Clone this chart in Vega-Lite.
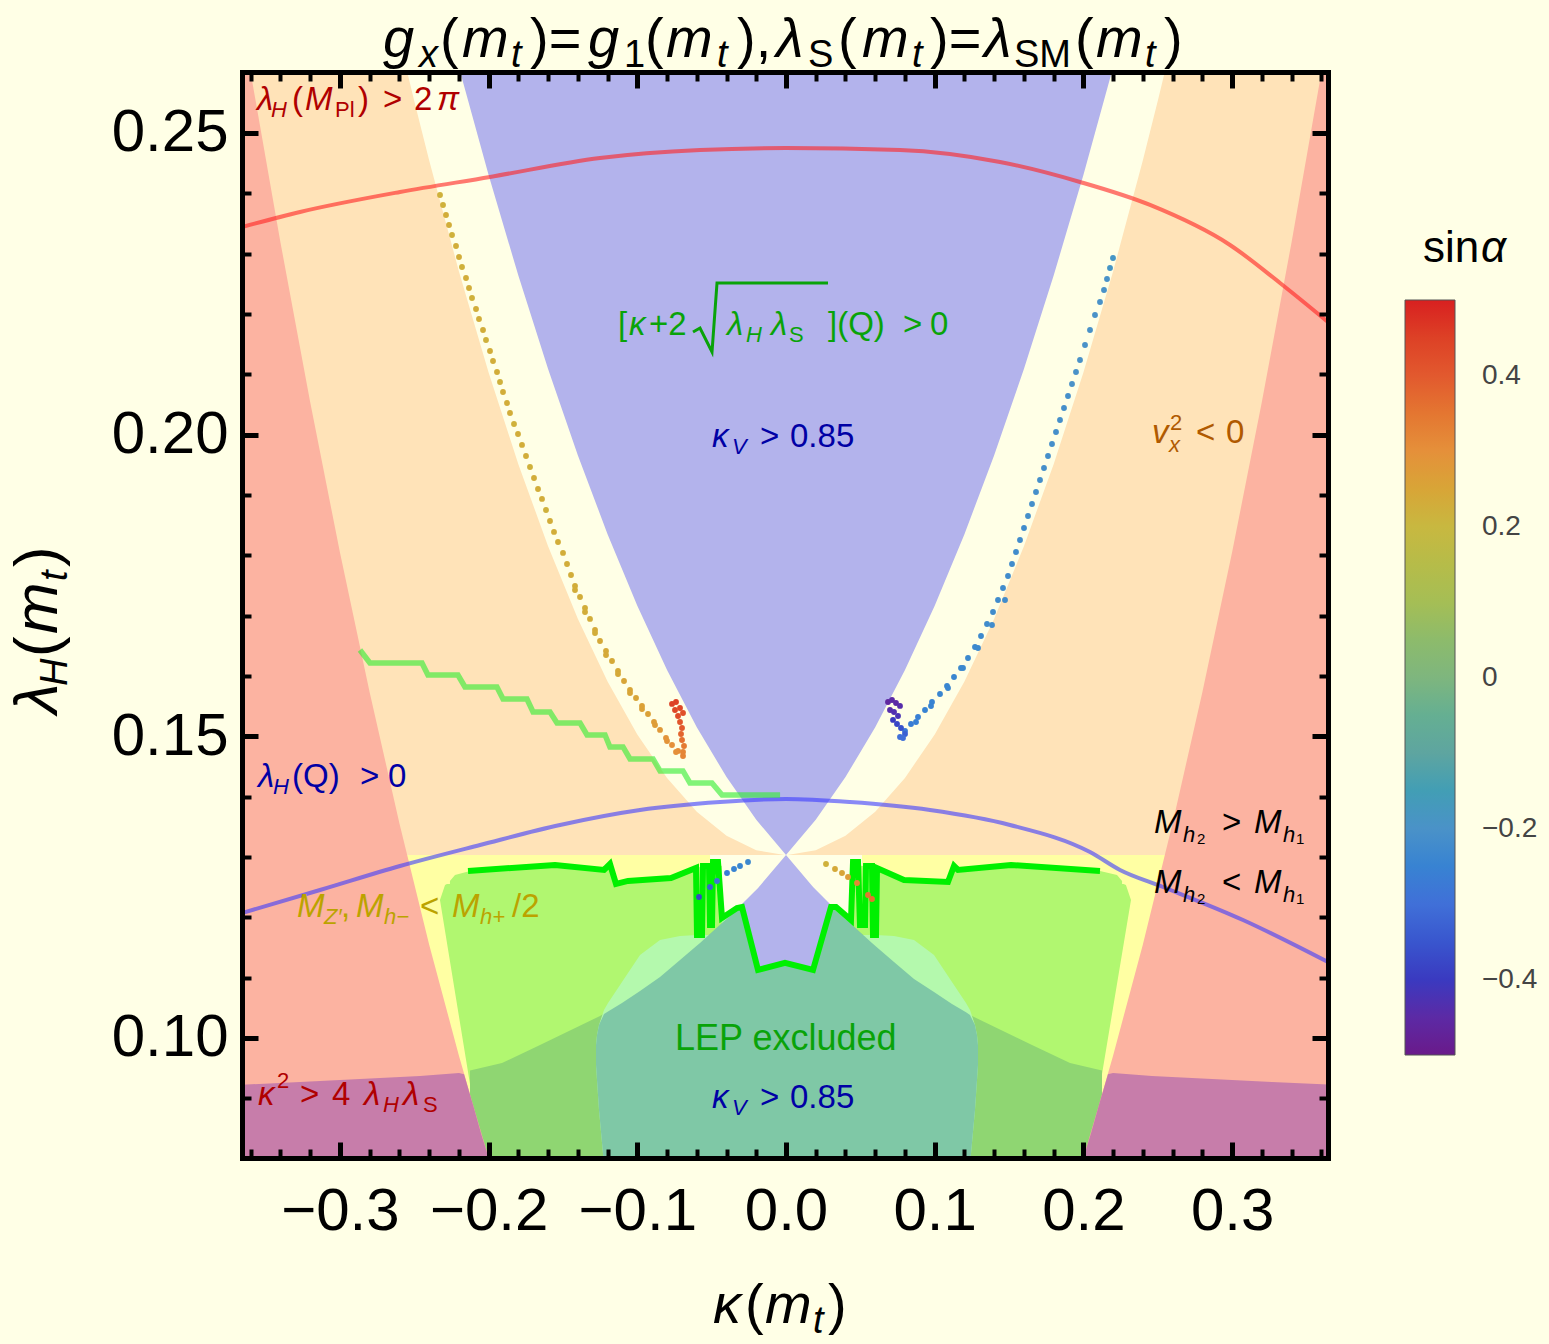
{
"$schema":"https://vega.github.io/schema/vega-lite/v6.json",
"width":1086,"height":1086,
"autosize":{"type":"none"},
"padding":{"left":242,"top":72,"right":221,"bottom":186},
"background":"#FFFFE6",
"config":{"view":{"stroke":null},"axis":{"grid":false,"labelFont":"Liberation Sans","labelColor":"black","tickColor":"black","domainColor":"black","zindex":3,"tickCap":"butt","domainCap":"square"}},
"datasets":{
"orange":[{"k":-0.37,"hi":0.262},{"k":-0.26,"hi":0.262},{"k":-0.255,"hi":0.2604},{"k":-0.25,"hi":0.2553},{"k":-0.24,"hi":0.2455},{"k":-0.22,"hi":0.2271},{"k":-0.2,"hi":0.2103},{"k":-0.18,"hi":0.1951},{"k":-0.16,"hi":0.1815},{"k":-0.14,"hi":0.1695},{"k":-0.12,"hi":0.1591},{"k":-0.1,"hi":0.1503},{"k":-0.08,"hi":0.1431},{"k":-0.06,"hi":0.1375},{"k":-0.04,"hi":0.1335},{"k":-0.02,"hi":0.1311},{"k":0,"hi":0.1303},{"k":0.02,"hi":0.1311},{"k":0.04,"hi":0.1335},{"k":0.06,"hi":0.1375},{"k":0.08,"hi":0.1431},{"k":0.1,"hi":0.1503},{"k":0.12,"hi":0.1591},{"k":0.14,"hi":0.1695},{"k":0.16,"hi":0.1815},{"k":0.18,"hi":0.1951},{"k":0.2,"hi":0.2103},{"k":0.22,"hi":0.2271},{"k":0.24,"hi":0.2455},{"k":0.25,"hi":0.2553},{"k":0.255,"hi":0.2604},{"k":0.26,"hi":0.262},{"k":0.37,"hi":0.262}],
"box":[{"l":0.079,"xl":-0.2035,"xr":0.2025},{"l":0.08009,"xl":-0.2044,"xr":0.2031},{"l":0.12286,"xl":-0.2327,"xr":0.232},{"l":0.12535,"xl":-0.2293,"xr":0.2286},{"l":0.1255,"xl":-0.228,"xr":0.227}],
"strip":[{"k":-0.226,"hi":0.126},{"k":-0.2226,"hi":0.127},{"k":-0.2125,"hi":0.12767},{"k":-0.1553,"hi":0.12867},{"k":-0.1224,"hi":0.12784},{"k":-0.1184,"hi":0.12883},{"k":-0.1143,"hi":0.12552},{"k":-0.1063,"hi":0.12602},{"k":-0.0773,"hi":0.12651},{"k":-0.0605,"hi":0.12817},{"k":-0.0559,"hi":0.1285},{"k":-0.043,"hi":0.1285},{"k":-0.0429,"hi":0.1255},{"k":0.0429,"hi":0.1255},{"k":0.043,"hi":0.1285},{"k":0.0559,"hi":0.1285},{"k":0.0612,"hi":0.12817},{"k":0.0794,"hi":0.12618},{"k":0.1089,"hi":0.12585},{"k":0.113,"hi":0.1285},{"k":0.1157,"hi":0.12784},{"k":0.1513,"hi":0.12867},{"k":0.2112,"hi":0.12767},{"k":0.2226,"hi":0.127},{"k":0.226,"hi":0.126}],
"dark":[{"k":-0.2125,"hi":0.09462},{"k":-0.19099,"hi":0.09585},{"k":-0.16543,"hi":0.09883},{"k":-0.12508,"hi":0.10364},{"k":-0.10491,"hi":0.10662},{"k":-0.08473,"hi":0.1101},{"k":-0.05783,"hi":0.11574},{"k":-0.03295,"hi":0.12121},{"k":0,"hi":0.13032},{"k":0.03295,"hi":0.12121},{"k":0.05783,"hi":0.11574},{"k":0.08473,"hi":0.1101},{"k":0.10491,"hi":0.10662},{"k":0.12508,"hi":0.10364},{"k":0.16543,"hi":0.09883},{"k":0.19099,"hi":0.09585},{"k":0.2125,"hi":0.09462}],
"lep":[{"k":-0.12777,"lo":0.09552,"hi":0.09883},{"k":-0.1271,"lo":0.09303,"hi":0.10049},{"k":-0.12576,"lo":0.08806,"hi":0.10215},{"k":-0.12239,"lo":0.079,"hi":0.10463},{"k":-0.1197,"lo":0.079,"hi":0.10579},{"k":-0.11029,"lo":0.079,"hi":0.10927},{"k":-0.09818,"lo":0.079,"hi":0.11375},{"k":-0.08473,"lo":0.079,"hi":0.11624},{"k":-0.07128,"lo":0.079,"hi":0.1169},{"k":-0.05985,"lo":0.079,"hi":0.11706},{"k":-0.0431,"lo":0.079,"hi":0.11706},{"k":-0.04304,"lo":0.079,"hi":0.11988},{"k":-0.03295,"lo":0.079,"hi":0.12154},{"k":-0.02959,"lo":0.079,"hi":0.12171},{"k":-0.01883,"lo":0.079,"hi":0.11126},{"k":-0.00067,"lo":0.079,"hi":0.11242},{"k":0.01816,"lo":0.079,"hi":0.11126},{"k":0.03026,"lo":0.079,"hi":0.12171},{"k":0.03362,"lo":0.079,"hi":0.12171},{"k":0.04371,"lo":0.079,"hi":0.11955},{"k":0.04438,"lo":0.079,"hi":0.11706},{"k":0.06052,"lo":0.079,"hi":0.11706},{"k":0.07263,"lo":0.079,"hi":0.1169},{"k":0.08608,"lo":0.079,"hi":0.11624},{"k":0.09953,"lo":0.079,"hi":0.11375},{"k":0.11163,"lo":0.079,"hi":0.10927},{"k":0.12105,"lo":0.079,"hi":0.10579},{"k":0.12374,"lo":0.079,"hi":0.10463},{"k":0.1271,"lo":0.08806,"hi":0.10215},{"k":0.12845,"lo":0.09303,"hi":0.10049},{"k":0.12912,"lo":0.09552,"hi":0.09883}],
"teal":[{"k":-0.12777,"lo":0.09552,"hi":0.09883},{"k":-0.1271,"lo":0.09303,"hi":0.10049},{"k":-0.12576,"lo":0.08806,"hi":0.10215},{"k":-0.12239,"lo":0.079,"hi":0.10397},{"k":-0.1197,"lo":0.079,"hi":0.10437},{"k":-0.11029,"lo":0.079,"hi":0.10579},{"k":-0.09818,"lo":0.079,"hi":0.10778},{"k":-0.08473,"lo":0.079,"hi":0.1101},{"k":-0.07128,"lo":0.079,"hi":0.11292},{"k":-0.05985,"lo":0.079,"hi":0.11532},{"k":-0.05783,"lo":0.079,"hi":0.11574},{"k":-0.04304,"lo":0.079,"hi":0.11905},{"k":-0.03295,"lo":0.079,"hi":0.12121},{"k":-0.02959,"lo":0.079,"hi":0.12171},{"k":-0.01883,"lo":0.079,"hi":0.11126},{"k":-0.00067,"lo":0.079,"hi":0.11242},{"k":0.01816,"lo":0.079,"hi":0.11126},{"k":0.03026,"lo":0.079,"hi":0.12171},{"k":0.03362,"lo":0.079,"hi":0.12104},{"k":0.04371,"lo":0.079,"hi":0.11889},{"k":0.05783,"lo":0.079,"hi":0.11574},{"k":0.06052,"lo":0.079,"hi":0.11516},{"k":0.07263,"lo":0.079,"hi":0.11259},{"k":0.08608,"lo":0.079,"hi":0.10977},{"k":0.09953,"lo":0.079,"hi":0.10762},{"k":0.11163,"lo":0.079,"hi":0.10563},{"k":0.12105,"lo":0.079,"hi":0.10424},{"k":0.12374,"lo":0.079,"hi":0.1038},{"k":0.1271,"lo":0.08806,"hi":0.10215},{"k":0.12845,"lo":0.09303,"hi":0.10049},{"k":0.12912,"lo":0.09552,"hi":0.09883}],
"cream":[{"k":-0.0511,"lo":0.1286},{"k":-0.0432,"lo":0.1286},{"k":-0.043,"lo":0.1199},{"k":-0.033,"lo":0.1215},{"k":-0.0296,"lo":0.1217},{"k":-0.0188,"lo":0.1113},{"k":0,"lo":0.1124},{"k":0.0182,"lo":0.1113},{"k":0.0296,"lo":0.1217},{"k":0.0309,"lo":0.1217},{"k":0.0437,"lo":0.1196},{"k":0.0439,"lo":0.1286},{"k":0.0511,"lo":0.1286}],
"lavlow":[{"k":-0.0296,"lo":0.1217,"hi":0.1222},{"k":-0.0188,"lo":0.1113,"hi":0.12486},{"k":0,"lo":0.1124,"hi":0.13032},{"k":0.0182,"lo":0.1113,"hi":0.12502},{"k":0.0296,"lo":0.1217,"hi":0.1222}],
"red":[{"side":"L","k":-0.37,"hi":0.262},{"side":"L","k":-0.3615,"hi":0.262},{"side":"L","k":-0.36,"hi":0.26},{"side":"L","k":-0.34,"hi":0.2319},{"side":"L","k":-0.32,"hi":0.2054},{"side":"L","k":-0.3,"hi":0.1805},{"side":"L","k":-0.28,"hi":0.1573},{"side":"L","k":-0.26,"hi":0.1356},{"side":"L","k":-0.24,"hi":0.1155},{"side":"L","k":-0.22,"hi":0.0971},{"side":"L","k":-0.21,"hi":0.0885},{"side":"L","k":-0.2,"hi":0.0802},{"side":"L","k":-0.198,"hi":0.079},{"side":"R","k":0.198,"hi":0.079},{"side":"R","k":0.2,"hi":0.0802},{"side":"R","k":0.21,"hi":0.0885},{"side":"R","k":0.22,"hi":0.0971},{"side":"R","k":0.24,"hi":0.1155},{"side":"R","k":0.26,"hi":0.1356},{"side":"R","k":0.28,"hi":0.1573},{"side":"R","k":0.3,"hi":0.1805},{"side":"R","k":0.32,"hi":0.2054},{"side":"R","k":0.34,"hi":0.2319},{"side":"R","k":0.36,"hi":0.26},{"side":"R","k":0.3615,"hi":0.262},{"side":"R","k":0.37,"hi":0.262}],
"purple":[{"side":"L","k":-0.37,"hi":0.0922},{"side":"L","k":-0.3268,"hi":0.0927},{"side":"L","k":-0.2865,"hi":0.0932},{"side":"L","k":-0.2461,"hi":0.0937},{"side":"L","k":-0.2199,"hi":0.0942},{"side":"L","k":-0.2165,"hi":0.094},{"side":"L","k":-0.21,"hi":0.0885},{"side":"L","k":-0.205,"hi":0.0841},{"side":"L","k":-0.2,"hi":0.0802},{"side":"L","k":-0.198,"hi":0.079},{"side":"R","k":0.198,"hi":0.079},{"side":"R","k":0.2,"hi":0.0802},{"side":"R","k":0.205,"hi":0.0841},{"side":"R","k":0.21,"hi":0.0885},{"side":"R","k":0.2165,"hi":0.094},{"side":"R","k":0.2199,"hi":0.0942},{"side":"R","k":0.2461,"hi":0.0937},{"side":"R","k":0.2865,"hi":0.0932},{"side":"R","k":0.3268,"hi":0.0927},{"side":"R","k":0.37,"hi":0.0922}],
"bluev":[{"k":-0.2213,"lo":0.262},{"k":-0.22,"lo":0.26093},{"k":-0.2,"lo":0.24304},{"k":-0.18,"lo":0.22636},{"k":-0.16,"lo":0.21087},{"k":-0.14,"lo":0.19659},{"k":-0.12,"lo":0.1835},{"k":-0.1,"lo":0.17164},{"k":-0.08,"lo":0.16097},{"k":-0.06,"lo":0.1515},{"k":-0.04,"lo":0.14324},{"k":-0.02,"lo":0.13617},{"k":0,"lo":0.13032},{"k":0.02,"lo":0.13617},{"k":0.04,"lo":0.14324},{"k":0.06,"lo":0.1515},{"k":0.08,"lo":0.16097},{"k":0.1,"lo":0.17164},{"k":0.12,"lo":0.1835},{"k":0.14,"lo":0.19659},{"k":0.16,"lo":0.21087},{"k":0.18,"lo":0.22636},{"k":0.2,"lo":0.24304},{"k":0.22,"lo":0.26093},{"k":0.2213,"lo":0.262}],
"plk":[{"k":-0.36584,"l":0.23442},{"k":-0.32683,"l":0.23691},{"k":-0.25958,"l":0.24022},{"k":-0.19906,"l":0.24271},{"k":-0.12508,"l":0.24586},{"k":-0.05783,"l":0.24718},{"k":0,"l":0.24751},{"k":0.07666,"l":0.24718},{"k":0.14391,"l":0.24519},{"k":0.19771,"l":0.24188},{"k":0.24479,"l":0.23807},{"k":0.29859,"l":0.23144},{"k":0.33221,"l":0.22514},{"k":0.36449,"l":0.21867}],
"lq":[{"k":-0.36584,"l":0.12071},{"k":-0.31338,"l":0.12452},{"k":-0.25958,"l":0.1285},{"k":-0.20578,"l":0.13198},{"k":-0.15198,"l":0.1353},{"k":-0.09818,"l":0.13778},{"k":-0.04438,"l":0.1391},{"k":0,"l":0.1396},{"k":0.04304,"l":0.1391},{"k":0.09684,"l":0.13778},{"k":0.15064,"l":0.1353},{"k":0.20444,"l":0.13082},{"k":0.22461,"l":0.12784},{"k":0.25353,"l":0.12502},{"k":0.30733,"l":0.11955},{"k":0.36449,"l":0.11259}],
"stair":[{"k":-0.2865,"l":0.16431},{"k":-0.2798,"l":0.16215},{"k":-0.2448,"l":0.16215},{"k":-0.2408,"l":0.16016},{"k":-0.2206,"l":0.16016},{"k":-0.2159,"l":0.15817},{"k":-0.1944,"l":0.15817},{"k":-0.1903,"l":0.15618},{"k":-0.1742,"l":0.15618},{"k":-0.1701,"l":0.15403},{"k":-0.1587,"l":0.15403},{"k":-0.154,"l":0.1522},{"k":-0.1385,"l":0.1522},{"k":-0.1338,"l":0.15022},{"k":-0.1217,"l":0.15022},{"k":-0.1184,"l":0.14823},{"k":-0.1096,"l":0.14823},{"k":-0.1049,"l":0.14624},{"k":-0.0894,"l":0.14624},{"k":-0.0847,"l":0.14425},{"k":-0.0693,"l":0.14425},{"k":-0.0646,"l":0.14226},{"k":-0.0498,"l":0.14226},{"k":-0.043,"l":0.14027},{"k":-0.004,"l":0.14027}],
"gl":[{"i":1,"k":-0.21385,"l":0.12767},{"i":2,"k":-0.15535,"l":0.12867},{"i":3,"k":-0.12239,"l":0.12784},{"i":4,"k":-0.11836,"l":0.12883},{"i":5,"k":-0.11432,"l":0.12552},{"i":6,"k":-0.10625,"l":0.12602},{"i":7,"k":-0.07734,"l":0.12651},{"i":8,"k":-0.06052,"l":0.12817},{"i":9,"k":-0.05985,"l":0.11706},{"i":10,"k":-0.05649,"l":0.11706},{"i":11,"k":-0.05582,"l":0.1285},{"i":12,"k":-0.05178,"l":0.1285},{"i":13,"k":-0.05111,"l":0.11872},{"i":14,"k":-0.04976,"l":0.11872},{"i":15,"k":-0.04909,"l":0.12917},{"i":16,"k":-0.04573,"l":0.12917},{"i":17,"k":-0.04304,"l":0.11988},{"i":18,"k":-0.03295,"l":0.12154},{"i":19,"k":-0.02959,"l":0.12171},{"i":20,"k":-0.01883,"l":0.11127},{"i":21,"k":-0.00067,"l":0.11243},{"i":22,"k":0.01816,"l":0.11127},{"i":23,"k":0.03026,"l":0.12171},{"i":24,"k":0.03362,"l":0.12171},{"i":25,"k":0.04371,"l":0.11955},{"i":26,"k":0.04506,"l":0.12917},{"i":27,"k":0.04842,"l":0.12917},{"i":28,"k":0.04976,"l":0.11872},{"i":29,"k":0.05313,"l":0.11872},{"i":30,"k":0.0538,"l":0.1285},{"i":31,"k":0.05783,"l":0.1285},{"i":32,"k":0.05851,"l":0.11706},{"i":33,"k":0.06052,"l":0.11706},{"i":34,"k":0.0612,"l":0.12817},{"i":35,"k":0.07935,"l":0.12618},{"i":36,"k":0.10894,"l":0.12585},{"i":37,"k":0.11298,"l":0.1285},{"i":38,"k":0.11567,"l":0.12784},{"i":39,"k":0.15131,"l":0.12867},{"i":40,"k":0.21116,"l":0.12767}],
"rad":[{"i":1,"k":-0.06254,"l":0.21701},{"i":2,"k":-0.05783,"l":0.21768},{"i":3,"k":-0.04976,"l":0.2137},{"i":4,"k":-0.0464,"l":0.22514},{"i":5,"k":0.02824,"l":0.22514}],
"pts":[
{"k":-0.23268,"l":0.23972,"s":0.22},{"k":-0.23066,"l":0.23807,"s":0.22},{"k":-0.22865,"l":0.23641,"s":0.23},{"k":-0.22663,"l":0.23475,"s":0.23},{"k":-0.22461,"l":0.23309,"s":0.22},{"k":-0.22192,"l":0.23127,"s":0.23},{"k":-0.2199,"l":0.22945,"s":0.23},{"k":-0.21789,"l":0.22779,"s":0.22},{"k":-0.2152,"l":0.22597,"s":0.23},{"k":-0.21318,"l":0.22431,"s":0.23},{"k":-0.21116,"l":0.22265,"s":0.22},{"k":-0.20847,"l":0.22083,"s":0.23},{"k":-0.20646,"l":0.21917,"s":0.23},{"k":-0.20376,"l":0.21735,"s":0.23},{"k":-0.20175,"l":0.21569,"s":0.22},{"k":-0.19906,"l":0.21387,"s":0.23},{"k":-0.19704,"l":0.21221,"s":0.23},{"k":-0.19435,"l":0.21039,"s":0.23},{"k":-0.19233,"l":0.20873,"s":0.22},{"k":-0.19032,"l":0.20707,"s":0.23},{"k":-0.18762,"l":0.20525,"s":0.23},{"k":-0.18561,"l":0.20359,"s":0.23},{"k":-0.18292,"l":0.20177,"s":0.22},{"k":-0.18023,"l":0.20011,"s":0.23},{"k":-0.17754,"l":0.19829,"s":0.23},{"k":-0.17485,"l":0.19646,"s":0.23},{"k":-0.17216,"l":0.19464,"s":0.22},{"k":-0.16947,"l":0.19282,"s":0.23},{"k":-0.16678,"l":0.19099,"s":0.23},{"k":-0.16409,"l":0.18934,"s":0.23},{"k":-0.1614,"l":0.18751,"s":0.22},{"k":-0.15871,"l":0.18569,"s":0.23},{"k":-0.15602,"l":0.18387,"s":0.23},{"k":-0.15333,"l":0.18221,"s":0.23},{"k":-0.14996,"l":0.18039,"s":0.23},{"k":-0.14727,"l":0.17856,"s":0.23},{"k":-0.14458,"l":0.17674,"s":0.23},{"k":-0.14189,"l":0.17492,"s":0.23},{"k":-0.13853,"l":0.17309,"s":0.23},{"k":-0.13517,"l":0.17127,"s":0.23},{"k":-0.13181,"l":0.16945,"s":0.23},{"k":-0.12844,"l":0.16762,"s":0.24},{"k":-0.12508,"l":0.1658,"s":0.24},{"k":-0.12105,"l":0.16414,"s":0.24},{"k":-0.11701,"l":0.16248,"s":0.24},{"k":-0.11298,"l":0.16083,"s":0.24},{"k":-0.10894,"l":0.15917,"s":0.25},{"k":-0.10491,"l":0.15768,"s":0.25},{"k":-0.10087,"l":0.15635,"s":0.25},{"k":-0.09684,"l":0.15503,"s":0.26},{"k":-0.0928,"l":0.1537,"s":0.26},{"k":-0.08877,"l":0.15237,"s":0.27},{"k":-0.08473,"l":0.15105,"s":0.28},{"k":-0.0807,"l":0.14972,"s":0.29},{"k":-0.07666,"l":0.14856,"s":0.3},{"k":-0.07263,"l":0.14757,"s":0.31},{"k":-0.06926,"l":0.14674,"s":0.32},
{"k":-0.1419,"l":0.17425,"s":0.23},{"k":-0.13517,"l":0.1706,"s":0.23},{"k":-0.12844,"l":0.16712,"s":0.23},{"k":-0.12105,"l":0.16348,"s":0.24},{"k":-0.11298,"l":0.16033,"s":0.24},{"k":-0.10491,"l":0.15718,"s":0.25},{"k":-0.09684,"l":0.15452,"s":0.26},{"k":-0.0881,"l":0.15187,"s":0.27},{"k":-0.08003,"l":0.14922,"s":0.29},{"k":-0.07397,"l":0.1474,"s":0.3},
{"k":-0.07666,"l":0.15536,"s":0.45},{"k":-0.07397,"l":0.15569,"s":0.45},{"k":-0.07465,"l":0.15436,"s":0.44},{"k":-0.07128,"l":0.15469,"s":0.44},{"k":-0.07263,"l":0.15337,"s":0.43},{"k":-0.06926,"l":0.15386,"s":0.42},{"k":-0.07128,"l":0.15237,"s":0.41},{"k":-0.06994,"l":0.15138,"s":0.4},{"k":-0.07061,"l":0.15038,"s":0.38},{"k":-0.06994,"l":0.14939,"s":0.36},{"k":-0.06859,"l":0.14839,"s":0.34},{"k":-0.06926,"l":0.1474,"s":0.32},
{"k":0.2199,"l":0.22928,"s":-0.19},{"k":0.21789,"l":0.22762,"s":-0.19},{"k":0.21587,"l":0.2258,"s":-0.2},{"k":0.21385,"l":0.22398,"s":-0.2},{"k":0.21116,"l":0.22199,"s":-0.2},{"k":0.2078,"l":0.21983,"s":-0.2},{"k":0.20444,"l":0.21735,"s":-0.2},{"k":0.20108,"l":0.21486,"s":-0.2},{"k":0.19771,"l":0.21237,"s":-0.2},{"k":0.19502,"l":0.21039,"s":-0.2},{"k":0.19233,"l":0.2084,"s":-0.2},{"k":0.18964,"l":0.20641,"s":-0.21},{"k":0.18695,"l":0.20442,"s":-0.21},{"k":0.18426,"l":0.20243,"s":-0.21},{"k":0.18157,"l":0.20044,"s":-0.21},{"k":0.17888,"l":0.19845,"s":-0.21},{"k":0.17619,"l":0.19646,"s":-0.21},{"k":0.1735,"l":0.19447,"s":-0.21},{"k":0.17081,"l":0.19248,"s":-0.21},{"k":0.16812,"l":0.19049,"s":-0.21},{"k":0.16543,"l":0.18851,"s":-0.21},{"k":0.16274,"l":0.18652,"s":-0.21},{"k":0.16005,"l":0.18453,"s":-0.22},{"k":0.15736,"l":0.18254,"s":-0.22},{"k":0.15467,"l":0.18055,"s":-0.22},{"k":0.15198,"l":0.17856,"s":-0.22},{"k":0.14929,"l":0.17657,"s":-0.22},{"k":0.14593,"l":0.17458,"s":-0.22},{"k":0.14257,"l":0.17259,"s":-0.22},{"k":0.13921,"l":0.1706,"s":-0.22},{"k":0.13517,"l":0.16861,"s":-0.22},{"k":0.13114,"l":0.16662,"s":-0.23},{"k":0.1271,"l":0.1648,"s":-0.23},{"k":0.12239,"l":0.16298,"s":-0.23},{"k":0.11769,"l":0.16132,"s":-0.23},{"k":0.11298,"l":0.15983,"s":-0.24},{"k":0.10827,"l":0.15834,"s":-0.24},{"k":0.10356,"l":0.15701,"s":-0.24},{"k":0.09818,"l":0.15569,"s":-0.25},{"k":0.09348,"l":0.15436,"s":-0.25},{"k":0.08877,"l":0.1532,"s":-0.26},{"k":0.08406,"l":0.15204,"s":-0.27},{"k":0.08003,"l":0.15088,"s":-0.28},{"k":0.07666,"l":0.14988,"s":-0.3},
{"k":0.14728,"l":0.17259,"s":-0.22},{"k":0.13853,"l":0.16845,"s":-0.22},{"k":0.12912,"l":0.16464,"s":-0.23},{"k":0.11903,"l":0.16132,"s":-0.23},{"k":0.10894,"l":0.15801,"s":-0.24},{"k":0.09751,"l":0.15502,"s":-0.25},{"k":0.08742,"l":0.15237,"s":-0.26},
{"k":0.06859,"l":0.15569,"s":-0.46},{"k":0.07128,"l":0.15602,"s":-0.45},{"k":0.07397,"l":0.15552,"s":-0.45},{"k":0.06994,"l":0.15436,"s":-0.44},{"k":0.07263,"l":0.15403,"s":-0.43},{"k":0.07532,"l":0.15337,"s":-0.42},{"k":0.07196,"l":0.15271,"s":-0.4},{"k":0.07465,"l":0.15204,"s":-0.38},{"k":0.07734,"l":0.15138,"s":-0.36},{"k":0.08003,"l":0.15038,"s":-0.33},{"k":0.07666,"l":0.15503,"s":-0.44},{"k":0.07868,"l":0.14972,"s":-0.3},
{"k":-0.02555,"l":0.12917,"s":-0.23},{"k":-0.03093,"l":0.1285,"s":-0.24},{"k":-0.03497,"l":0.128,"s":-0.25},{"k":-0.03968,"l":0.12734,"s":-0.27},{"k":-0.0464,"l":0.12602,"s":-0.3},{"k":-0.05111,"l":0.12502,"s":-0.33},{"k":-0.05851,"l":0.12336,"s":-0.38},
{"k":0.0269,"l":0.12883,"s":0.22},{"k":0.03295,"l":0.128,"s":0.24},{"k":0.03766,"l":0.12734,"s":0.25},{"k":0.04169,"l":0.12668,"s":0.27},{"k":0.04775,"l":0.12568,"s":0.32},{"k":0.05514,"l":0.1237,"s":0.35},{"k":0.05783,"l":0.12303,"s":0.36}],
"tIm":[{"t":"λ","k":-0.35575,"l":0.25381,"g":"planck"},{"t":"M","k":-0.32347,"l":0.25381,"g":"planck"},{"t":"π","k":-0.2347,"l":0.25381,"g":"planck"},{"t":"λ","k":-0.35508,"l":0.1416,"g":"lamq"},{"t":"κ","k":-0.10558,"l":0.21652,"g":"sqrt"},{"t":"λ","k":-0.03968,"l":0.21652,"g":"sqrt"},{"t":"λ","k":-0.01009,"l":0.21652,"g":"sqrt"},{"t":"κ","k":-0.04976,"l":0.19795,"g":"kv"},{"t":"κ","k":-0.04976,"l":0.08839,"g":"kv"},{"t":"v","k":0.24613,"l":0.19862,"g":"vx"},{"t":"M","k":0.24748,"l":0.13397,"g":"mh"},{"t":"M","k":0.31473,"l":0.13397,"g":"mh"},{"t":"M","k":0.24748,"l":0.12403,"g":"mh"},{"t":"M","k":0.31473,"l":0.12403,"g":"mh"},{"t":"M","k":-0.32885,"l":0.12005,"g":"mz"},{"t":"M","k":-0.28918,"l":0.12005,"g":"mz"},{"t":"M","k":-0.22461,"l":0.12005,"g":"mz"},{"t":"κ","k":-0.35508,"l":0.08888,"g":"k2"},{"t":"λ","k":-0.28379,"l":0.08888,"g":"k2"},{"t":"λ","k":-0.25757,"l":0.08888,"g":"k2"}],
"tRm":[{"t":"(","k":-0.33221,"l":0.25381,"g":"planck"},{"t":")","k":-0.28783,"l":0.25381,"g":"planck"},{"t":">","k":-0.27101,"l":0.25381,"g":"planck"},{"t":"2","k":-0.25017,"l":0.25381,"g":"planck"},{"t":"(Q)","k":-0.33221,"l":0.1416,"g":"lamq"},{"t":">","k":-0.28648,"l":0.1416,"g":"lamq"},{"t":"0","k":-0.26765,"l":0.1416,"g":"lamq"},{"t":"[","k":-0.11298,"l":0.21652,"g":"sqrt"},{"t":"+2","k":-0.09213,"l":0.21652,"g":"sqrt"},{"t":"](Q)","k":0.02824,"l":0.21652,"g":"sqrt"},{"t":">","k":0.07868,"l":0.21652,"g":"sqrt"},{"t":"0","k":0.09684,"l":0.21652,"g":"sqrt"},{"t":">","k":-0.01748,"l":0.19795,"g":"kv"},{"t":"0.85","k":0.00269,"l":0.19795,"g":"kv"},{"t":">","k":-0.01748,"l":0.08839,"g":"kv"},{"t":"0.85","k":0.00269,"l":0.08839,"g":"kv"},{"t":"<","k":0.27572,"l":0.19862,"g":"vx"},{"t":"0","k":0.2959,"l":0.19862,"g":"vx"},{"t":">","k":0.29321,"l":0.13397,"g":"mh"},{"t":"<","k":0.29321,"l":0.12403,"g":"mh"},{"t":",","k":-0.29926,"l":0.12005,"g":"mz"},{"t":"<","k":-0.24613,"l":0.12005,"g":"mz"},{"t":"/2","k":-0.18426,"l":0.12005,"g":"mz"},{"t":">","k":-0.32683,"l":0.08888,"g":"k2"},{"t":"4","k":-0.30531,"l":0.08888,"g":"k2"}],
"tLep":[{"t":"LEP excluded","k":-0.07465,"l":0.098,"g":"lep"}],
"tIs":[{"t":"H","k":-0.34633,"l":0.25265,"g":"planck"},{"t":"H","k":-0.345,"l":0.14044,"g":"lamq"},{"t":"H","k":-0.0269,"l":0.21536,"g":"sqrt"},{"t":"V","k":-0.03631,"l":0.19679,"g":"kv"},{"t":"V","k":-0.03631,"l":0.08723,"g":"kv"},{"t":"x","k":0.25757,"l":0.19712,"g":"vx"},{"t":"h","k":0.26698,"l":0.13248,"g":"mh"},{"t":"h","k":0.33423,"l":0.13248,"g":"mh"},{"t":"h","k":0.26698,"l":0.12253,"g":"mh"},{"t":"h","k":0.33423,"l":0.12253,"g":"mh"},{"t":"Z′","k":-0.31069,"l":0.11889,"g":"mz"},{"t":"h−","k":-0.27034,"l":0.11889,"g":"mz"},{"t":"h+","k":-0.20578,"l":0.11889,"g":"mz"},{"t":"H","k":-0.27101,"l":0.08773,"g":"k2"}],
"tRs":[{"t":"Pl","k":-0.30329,"l":0.25265,"g":"planck"},{"t":"S","k":0.00202,"l":0.21536,"g":"sqrt"},{"t":"2","k":0.25824,"l":0.20077,"g":"vx"},{"t":"2","k":-0.3423,"l":0.0917,"g":"k2"},{"t":"S","k":-0.24412,"l":0.08773,"g":"k2"}],
"tRt":[{"t":"2","k":0.2764,"l":0.13215,"g":"mh"},{"t":"1","k":0.34297,"l":0.13215,"g":"mh"},{"t":"2","k":0.2764,"l":0.1222,"g":"mh"},{"t":"1","k":0.34297,"l":0.1222,"g":"mh"}],
"tIB":[{"t":"g","k":-0.27101,"l":0.2626,"g":"title"},{"t":"m","k":-0.21789,"l":0.2626,"g":"title"},{"t":"g","k":-0.13315,"l":0.2626,"g":"title"},{"t":"m","k":-0.0807,"l":0.2626,"g":"title"},{"t":"λ","k":-0.00672,"l":0.2626,"g":"title"},{"t":"m","k":0.05111,"l":0.2626,"g":"title"},{"t":"λ","k":0.13315,"l":0.2626,"g":"title"},{"t":"m","k":0.20847,"l":0.2626,"g":"title"},{"t":"κ","k":-0.04909,"l":0.05275,"g":"title"},{"t":"m","k":-0.01412,"l":0.05275,"g":"title"}],
"tRB":[{"t":"(","k":-0.23268,"l":0.2626,"g":"title"},{"t":")=","k":-0.17216,"l":0.2626,"g":"title"},{"t":"(","k":-0.09482,"l":0.2626,"g":"title"},{"t":"),","k":-0.03295,"l":0.2626,"g":"title"},{"t":"(","k":0.03497,"l":0.2626,"g":"title"},{"t":")=","k":0.09684,"l":0.2626,"g":"title"},{"t":"(","k":0.19435,"l":0.2626,"g":"title"},{"t":")","k":0.2542,"l":0.2626,"g":"title"},{"t":"(","k":-0.02757,"l":0.05275,"g":"title"},{"t":")","k":0.02824,"l":0.05275,"g":"title"}],
"tIBs":[{"t":"x","k":-0.24681,"l":0.26094,"g":"title"},{"t":"t","k":-0.18494,"l":0.26094,"g":"title"},{"t":"t","k":-0.0464,"l":0.26094,"g":"title"},{"t":"t","k":0.08473,"l":0.26094,"g":"title"},{"t":"t","k":0.24143,"l":0.26094,"g":"title"},{"t":"t","k":0.01816,"l":0.05109,"g":"title"}],
"tRBs":[{"t":"1","k":-0.10894,"l":0.26094,"g":"title"},{"t":"S","k":0.0148,"l":0.26094,"g":"title"},{"t":"SM","k":0.15333,"l":0.26094,"g":"title"}],
"tSin":[{"t":"sin","k":0.42838,"l":0.22862,"g":"title"}],
"tAlpha":[{"t":"α","k":0.46739,"l":0.22862,"g":"title"}],
"rIB":[{"t":"λ","k":-0.49025,"l":0.1537,"g":"title"},{"t":"m","k":-0.49025,"l":0.16696,"g":"title"}],
"rRB":[{"t":"(","k":-0.49025,"l":0.16314,"g":"title"},{"t":")","k":-0.49025,"l":0.17806,"g":"title"}],
"rIBs":[{"t":"H","k":-0.48352,"l":0.15834,"g":"title"},{"t":"t","k":-0.48352,"l":0.17574,"g":"title"}]
},
"layer":[
{"layer":[
{"data":{"name":"orange"},"mark":{"type":"area","color":"#FFE3B8","clip":true},"encoding":{"x":{"field":"k","type":"quantitative","scale":{"domain":[-0.36584,0.36449],"nice":false,"zero":false},"axis":null},"y":{"field":"hi","type":"quantitative","scale":{"domain":[0.0801,0.26011],"nice":false,"zero":false},"axis":null},"y2":{"datum":0.13032}}},
{"data":{"values":[{"k":-0.37},{"k":0.37}]},"mark":{"type":"area","color":"#FFFFA3","clip":true},"encoding":{"x":{"field":"k","type":"quantitative","scale":{"domain":[-0.36584,0.36449],"nice":false,"zero":false},"axis":null},"y":{"datum":0.13032,"type":"quantitative","scale":{"domain":[0.0801,0.26011],"nice":false,"zero":false},"axis":null},"y2":{"datum":0.079}}},
{"data":{"name":"box"},"mark":{"type":"area","orient":"horizontal","color":"#B1F770","clip":true},"encoding":{"y":{"field":"l","type":"quantitative","scale":{"domain":[0.0801,0.26011],"nice":false,"zero":false},"axis":null},"x":{"field":"xl","type":"quantitative","scale":{"domain":[-0.36584,0.36449],"nice":false,"zero":false},"axis":null},"x2":{"field":"xr"}}},
{"data":{"name":"strip"},"mark":{"type":"area","color":"#B1F770","clip":true},"encoding":{"x":{"field":"k","type":"quantitative","scale":{"domain":[-0.36584,0.36449],"nice":false,"zero":false},"axis":null},"y":{"field":"hi","type":"quantitative","scale":{"domain":[0.0801,0.26011],"nice":false,"zero":false},"axis":null},"y2":{"datum":0.1255}}},
{"data":{"name":"dark"},"mark":{"type":"area","color":"#8FD672","clip":true},"encoding":{"x":{"field":"k","type":"quantitative","scale":{"domain":[-0.36584,0.36449],"nice":false,"zero":false},"axis":null},"y":{"field":"hi","type":"quantitative","scale":{"domain":[0.0801,0.26011],"nice":false,"zero":false},"axis":null},"y2":{"datum":0.079}}},
{"data":{"name":"lep"},"mark":{"type":"area","color":"#B4F9AD","clip":true},"encoding":{"x":{"field":"k","type":"quantitative","scale":{"domain":[-0.36584,0.36449],"nice":false,"zero":false},"axis":null},"y":{"field":"lo","type":"quantitative","scale":{"domain":[0.0801,0.26011],"nice":false,"zero":false},"axis":null},"y2":{"field":"hi"}}},
{"data":{"name":"teal"},"mark":{"type":"area","color":"#7FC8A6","clip":true},"encoding":{"x":{"field":"k","type":"quantitative","scale":{"domain":[-0.36584,0.36449],"nice":false,"zero":false},"axis":null},"y":{"field":"lo","type":"quantitative","scale":{"domain":[0.0801,0.26011],"nice":false,"zero":false},"axis":null},"y2":{"field":"hi"}}},
{"data":{"name":"cream"},"mark":{"type":"area","color":"#FFFFE6","clip":true},"encoding":{"x":{"field":"k","type":"quantitative","scale":{"domain":[-0.36584,0.36449],"nice":false,"zero":false},"axis":null},"y":{"field":"lo","type":"quantitative","scale":{"domain":[0.0801,0.26011],"nice":false,"zero":false},"axis":null},"y2":{"datum":0.13032}}},
{"data":{"name":"lavlow"},"mark":{"type":"area","color":"#B3B3EC","clip":true},"encoding":{"x":{"field":"k","type":"quantitative","scale":{"domain":[-0.36584,0.36449],"nice":false,"zero":false},"axis":null},"y":{"field":"lo","type":"quantitative","scale":{"domain":[0.0801,0.26011],"nice":false,"zero":false},"axis":null},"y2":{"field":"hi"}}},
{"data":{"name":"red"},"mark":{"type":"area","color":"#FCB3A1","clip":true},"encoding":{"x":{"field":"k","type":"quantitative","scale":{"domain":[-0.36584,0.36449],"nice":false,"zero":false},"axis":null},"y":{"field":"hi","type":"quantitative","scale":{"domain":[0.0801,0.26011],"nice":false,"zero":false},"axis":null},"y2":{"datum":0.079},"detail":{"field":"side"}}},
{"data":{"name":"purple"},"mark":{"type":"area","color":"#C77DAA","clip":true},"encoding":{"x":{"field":"k","type":"quantitative","scale":{"domain":[-0.36584,0.36449],"nice":false,"zero":false},"axis":null},"y":{"field":"hi","type":"quantitative","scale":{"domain":[0.0801,0.26011],"nice":false,"zero":false},"axis":null},"y2":{"datum":0.079},"detail":{"field":"side"}}},
{"data":{"name":"bluev"},"mark":{"type":"area","color":"#B3B3EC","clip":true},"encoding":{"x":{"field":"k","type":"quantitative","scale":{"domain":[-0.36584,0.36449],"nice":false,"zero":false},"axis":null},"y":{"field":"lo","type":"quantitative","scale":{"domain":[0.0801,0.26011],"nice":false,"zero":false},"axis":null},"y2":{"datum":0.262}}},
{"data":{"name":"plk"},"mark":{"type":"line","color":"#FF2020","opacity":0.6,"strokeWidth":4,"interpolate":"monotone","clip":true},"encoding":{"x":{"field":"k","type":"quantitative","scale":{"domain":[-0.36584,0.36449],"nice":false,"zero":false},"axis":null},"y":{"field":"l","type":"quantitative","scale":{"domain":[0.0801,0.26011],"nice":false,"zero":false},"axis":null}}},
{"data":{"name":"lq"},"mark":{"type":"line","color":"#3A3AFF","opacity":0.6,"strokeWidth":4,"interpolate":"monotone","clip":true},"encoding":{"x":{"field":"k","type":"quantitative","scale":{"domain":[-0.36584,0.36449],"nice":false,"zero":false},"axis":null},"y":{"field":"l","type":"quantitative","scale":{"domain":[0.0801,0.26011],"nice":false,"zero":false},"axis":null}}},
{"data":{"name":"stair"},"mark":{"type":"line","color":"#33EE33","opacity":0.62,"strokeWidth":5.5,"clip":true},"encoding":{"x":{"field":"k","type":"quantitative","scale":{"domain":[-0.36584,0.36449],"nice":false,"zero":false},"axis":null},"y":{"field":"l","type":"quantitative","scale":{"domain":[0.0801,0.26011],"nice":false,"zero":false},"axis":null}}},
{"mark":{"type":"rule","color":"black","strokeWidth":3.5},"encoding":{"y":{"datum":0.13032,"type":"quantitative","scale":{"domain":[0.0801,0.26011],"nice":false,"zero":false},"axis":null}}},
{"data":{"name":"gl"},"mark":{"type":"line","color":"#00F000","strokeWidth":6,"clip":true},"encoding":{"x":{"field":"k","type":"quantitative","scale":{"domain":[-0.36584,0.36449],"nice":false,"zero":false},"axis":null},"y":{"field":"l","type":"quantitative","scale":{"domain":[0.0801,0.26011],"nice":false,"zero":false},"axis":null},"order":{"field":"i","type":"quantitative"}}},
{"data":{"name":"pts"},"mark":{"type":"circle","size":34,"opacity":1},"encoding":{"x":{"field":"k","type":"quantitative","scale":{"domain":[-0.36584,0.36449],"nice":false,"zero":false},"axis":null},"y":{"field":"l","type":"quantitative","scale":{"domain":[0.0801,0.26011],"nice":false,"zero":false},"axis":null},"color":{"field":"s","type":"quantitative","scale":{"domain":[-0.5,-0.4,-0.3,-0.2,-0.1,0,0.1,0.2,0.3,0.4,0.5],"range":["#6A1A8A","#3A3AC0","#4070D8","#4A92C8","#5EA5A0","#7EB67E","#A5BE55","#C8B840","#E5903A","#E2592E","#D82020"]},"legend":{"orient":"none","legendX":1163,"legendY":228,"direction":"vertical","gradientLength":755,"gradientThickness":50,"title":null,"values":[-0.4,-0.2,0,0.2,0.4],"format":".1~f","labelFontSize":28,"labelColor":"#444444","labelFont":"Liberation Sans","labelOffset":27,"gradientStrokeColor":"#555555","gradientStrokeWidth":1}}}},
{"data":{"name":"rad"},"mark":{"type":"line","color":"#09A309","strokeWidth":3},"encoding":{"x":{"field":"k","type":"quantitative","scale":{"domain":[-0.36584,0.36449],"nice":false,"zero":false},"axis":null},"y":{"field":"l","type":"quantitative","scale":{"domain":[0.0801,0.26011],"nice":false,"zero":false},"axis":null},"order":{"field":"i","type":"quantitative"}}},
{"data":{"name":"tIm"},"mark":{"type":"text","align":"left","baseline":"alphabetic","font":"Liberation Sans","fontSize":33,"fontStyle":"italic"},"encoding":{"x":{"field":"k","type":"quantitative","scale":{"domain":[-0.36584,0.36449],"nice":false,"zero":false},"axis":null},"y":{"field":"l","type":"quantitative","scale":{"domain":[0.0801,0.26011],"nice":false,"zero":false},"axis":null},"text":{"field":"t"},"fill":{"field":"g","type":"nominal","scale":{"domain":["title","planck","lamq","sqrt","kv","vx","mh","mz","k2","lep"],"range":["#000000","#B00000","#0000A5","#09A309","#0000A5","#B05A00","#000000","#BBA300","#B00000","#09A309"]},"legend":null}}},
{"data":{"name":"tRm"},"mark":{"type":"text","align":"left","baseline":"alphabetic","font":"Liberation Sans","fontSize":33},"encoding":{"x":{"field":"k","type":"quantitative","scale":{"domain":[-0.36584,0.36449],"nice":false,"zero":false},"axis":null},"y":{"field":"l","type":"quantitative","scale":{"domain":[0.0801,0.26011],"nice":false,"zero":false},"axis":null},"text":{"field":"t"},"fill":{"field":"g","type":"nominal","legend":null}}},
{"data":{"name":"tLep"},"mark":{"type":"text","align":"left","baseline":"alphabetic","font":"Liberation Sans","fontSize":36},"encoding":{"x":{"field":"k","type":"quantitative","scale":{"domain":[-0.36584,0.36449],"nice":false,"zero":false},"axis":null},"y":{"field":"l","type":"quantitative","scale":{"domain":[0.0801,0.26011],"nice":false,"zero":false},"axis":null},"text":{"field":"t"},"fill":{"field":"g","type":"nominal","legend":null}}},
{"data":{"name":"tIs"},"mark":{"type":"text","align":"left","baseline":"alphabetic","font":"Liberation Sans","fontSize":22,"fontStyle":"italic"},"encoding":{"x":{"field":"k","type":"quantitative","scale":{"domain":[-0.36584,0.36449],"nice":false,"zero":false},"axis":null},"y":{"field":"l","type":"quantitative","scale":{"domain":[0.0801,0.26011],"nice":false,"zero":false},"axis":null},"text":{"field":"t"},"fill":{"field":"g","type":"nominal","legend":null}}},
{"data":{"name":"tRs"},"mark":{"type":"text","align":"left","baseline":"alphabetic","font":"Liberation Sans","fontSize":22},"encoding":{"x":{"field":"k","type":"quantitative","scale":{"domain":[-0.36584,0.36449],"nice":false,"zero":false},"axis":null},"y":{"field":"l","type":"quantitative","scale":{"domain":[0.0801,0.26011],"nice":false,"zero":false},"axis":null},"text":{"field":"t"},"fill":{"field":"g","type":"nominal","legend":null}}},
{"data":{"name":"tRt"},"mark":{"type":"text","align":"left","baseline":"alphabetic","font":"Liberation Sans","fontSize":15},"encoding":{"x":{"field":"k","type":"quantitative","scale":{"domain":[-0.36584,0.36449],"nice":false,"zero":false},"axis":null},"y":{"field":"l","type":"quantitative","scale":{"domain":[0.0801,0.26011],"nice":false,"zero":false},"axis":null},"text":{"field":"t"},"fill":{"field":"g","type":"nominal","legend":null}}},
{"data":{"name":"tIB"},"mark":{"type":"text","align":"left","baseline":"alphabetic","font":"Liberation Sans","fontSize":56,"fontStyle":"italic"},"encoding":{"x":{"field":"k","type":"quantitative","scale":{"domain":[-0.36584,0.36449],"nice":false,"zero":false},"axis":null},"y":{"field":"l","type":"quantitative","scale":{"domain":[0.0801,0.26011],"nice":false,"zero":false},"axis":null},"text":{"field":"t"},"fill":{"field":"g","type":"nominal","legend":null}}},
{"data":{"name":"tRB"},"mark":{"type":"text","align":"left","baseline":"alphabetic","font":"Liberation Sans","fontSize":56},"encoding":{"x":{"field":"k","type":"quantitative","scale":{"domain":[-0.36584,0.36449],"nice":false,"zero":false},"axis":null},"y":{"field":"l","type":"quantitative","scale":{"domain":[0.0801,0.26011],"nice":false,"zero":false},"axis":null},"text":{"field":"t"},"fill":{"field":"g","type":"nominal","legend":null}}},
{"data":{"name":"tIBs"},"mark":{"type":"text","align":"left","baseline":"alphabetic","font":"Liberation Sans","fontSize":38,"fontStyle":"italic"},"encoding":{"x":{"field":"k","type":"quantitative","scale":{"domain":[-0.36584,0.36449],"nice":false,"zero":false},"axis":null},"y":{"field":"l","type":"quantitative","scale":{"domain":[0.0801,0.26011],"nice":false,"zero":false},"axis":null},"text":{"field":"t"},"fill":{"field":"g","type":"nominal","legend":null}}},
{"data":{"name":"tRBs"},"mark":{"type":"text","align":"left","baseline":"alphabetic","font":"Liberation Sans","fontSize":38},"encoding":{"x":{"field":"k","type":"quantitative","scale":{"domain":[-0.36584,0.36449],"nice":false,"zero":false},"axis":null},"y":{"field":"l","type":"quantitative","scale":{"domain":[0.0801,0.26011],"nice":false,"zero":false},"axis":null},"text":{"field":"t"},"fill":{"field":"g","type":"nominal","legend":null}}},
{"data":{"name":"tSin"},"mark":{"type":"text","align":"left","baseline":"alphabetic","font":"Liberation Sans","fontSize":44},"encoding":{"x":{"field":"k","type":"quantitative","scale":{"domain":[-0.36584,0.36449],"nice":false,"zero":false},"axis":null},"y":{"field":"l","type":"quantitative","scale":{"domain":[0.0801,0.26011],"nice":false,"zero":false},"axis":null},"text":{"field":"t"},"fill":{"field":"g","type":"nominal","legend":null}}},
{"data":{"name":"tAlpha"},"mark":{"type":"text","align":"left","baseline":"alphabetic","font":"Liberation Sans","fontSize":44,"fontStyle":"italic"},"encoding":{"x":{"field":"k","type":"quantitative","scale":{"domain":[-0.36584,0.36449],"nice":false,"zero":false},"axis":null},"y":{"field":"l","type":"quantitative","scale":{"domain":[0.0801,0.26011],"nice":false,"zero":false},"axis":null},"text":{"field":"t"},"fill":{"field":"g","type":"nominal","legend":null}}},
{"data":{"name":"rIB"},"mark":{"type":"text","align":"left","baseline":"alphabetic","font":"Liberation Sans","fontSize":62,"fontStyle":"italic","angle":270},"encoding":{"x":{"field":"k","type":"quantitative","scale":{"domain":[-0.36584,0.36449],"nice":false,"zero":false},"axis":null},"y":{"field":"l","type":"quantitative","scale":{"domain":[0.0801,0.26011],"nice":false,"zero":false},"axis":null},"text":{"field":"t"},"fill":{"field":"g","type":"nominal","legend":null}}},
{"data":{"name":"rRB"},"mark":{"type":"text","align":"left","baseline":"alphabetic","font":"Liberation Sans","fontSize":62,"angle":270},"encoding":{"x":{"field":"k","type":"quantitative","scale":{"domain":[-0.36584,0.36449],"nice":false,"zero":false},"axis":null},"y":{"field":"l","type":"quantitative","scale":{"domain":[0.0801,0.26011],"nice":false,"zero":false},"axis":null},"text":{"field":"t"},"fill":{"field":"g","type":"nominal","legend":null}}},
{"data":{"name":"rIBs"},"mark":{"type":"text","align":"left","baseline":"alphabetic","font":"Liberation Sans","fontSize":38,"fontStyle":"italic","angle":270},"encoding":{"x":{"field":"k","type":"quantitative","scale":{"domain":[-0.36584,0.36449],"nice":false,"zero":false},"axis":null},"y":{"field":"l","type":"quantitative","scale":{"domain":[0.0801,0.26011],"nice":false,"zero":false},"axis":null},"text":{"field":"t"},"fill":{"field":"g","type":"nominal","legend":null}}}
]},
{"data":{"values":[{"k":0,"l":0.15}]},"mark":{"type":"point","opacity":0},"encoding":{"x":{"field":"k","type":"quantitative","scale":{"domain":[-0.36584,0.36449],"nice":false,"zero":false},"axis":{"orient":"bottom","values":[-0.3,-0.2,-0.1,0,0.1,0.2,0.3],"format":".1f","ticks":false,"domain":false,"labelFontSize":60,"labelPadding":24,"labelFlush":false,"labelOverlap":false,"title":null,"zindex":3}},"y":{"field":"l","type":"quantitative","scale":{"domain":[0.0801,0.26011],"nice":false,"zero":false},"axis":{"orient":"left","values":[0.1,0.15,0.2,0.25],"format":".2f","ticks":false,"domain":false,"labelFontSize":60,"labelPadding":14,"labelOverlap":false,"labelFlush":false,"title":null,"zindex":3}}}},
{"data":{"values":[{"k":0,"l":0.15}]},"mark":{"type":"point","opacity":0},"encoding":{"x":{"field":"k","type":"quantitative","scale":{"domain":[-0.36584,0.36449],"nice":false,"zero":false},"axis":{"orient":"bottom","values":[-0.3,-0.2,-0.1,0,0.1,0.2,0.3],"labels":false,"ticks":true,"tickSize":-16,"tickWidth":5,"domainWidth":5,"title":null,"zindex":3}},"y":{"field":"l","type":"quantitative","scale":{"domain":[0.0801,0.26011],"nice":false,"zero":false},"axis":{"orient":"left","values":[0.1,0.15,0.2,0.25],"labels":false,"ticks":true,"tickSize":-16,"tickWidth":5,"domainWidth":5,"title":null,"zindex":3}}}},
{"data":{"values":[{"k":0,"l":0.15}]},"mark":{"type":"point","opacity":0},"encoding":{"x":{"field":"k","type":"quantitative","scale":{"domain":[-0.36584,0.36449],"nice":false,"zero":false},"axis":{"orient":"top","values":[-0.3,-0.2,-0.1,0,0.1,0.2,0.3],"labels":false,"ticks":true,"tickSize":-16,"tickWidth":5,"domainWidth":5,"title":null,"zindex":3}},"y":{"field":"l","type":"quantitative","scale":{"domain":[0.0801,0.26011],"nice":false,"zero":false},"axis":{"orient":"right","values":[0.1,0.15,0.2,0.25],"labels":false,"ticks":true,"tickSize":-16,"tickWidth":5,"domainWidth":5,"title":null,"zindex":3}}}},
{"data":{"values":[{"k":0,"l":0.15}]},"mark":{"type":"point","opacity":0},"encoding":{"x":{"field":"k","type":"quantitative","scale":{"domain":[-0.36584,0.36449],"nice":false,"zero":false},"axis":{"orient":"bottom","values":[-0.36,-0.34,-0.32,-0.28,-0.26,-0.24,-0.22,-0.18,-0.16,-0.14,-0.12,-0.08,-0.06,-0.04,-0.02,0.02,0.04,0.06,0.08,0.12,0.14,0.16,0.18,0.22,0.24,0.26,0.28,0.32,0.34,0.36],"labels":false,"ticks":true,"tickSize":-9,"tickWidth":4,"domain":false,"title":null,"zindex":3}},"y":{"field":"l","type":"quantitative","scale":{"domain":[0.0801,0.26011],"nice":false,"zero":false},"axis":{"orient":"left","values":[0.09,0.11,0.12,0.13,0.14,0.16,0.17,0.18,0.19,0.21,0.22,0.23,0.24],"labels":false,"ticks":true,"tickSize":-9,"tickWidth":4,"domain":false,"title":null,"zindex":3}}}},
{"data":{"values":[{"k":0,"l":0.15}]},"mark":{"type":"point","opacity":0},"encoding":{"x":{"field":"k","type":"quantitative","scale":{"domain":[-0.36584,0.36449],"nice":false,"zero":false},"axis":{"orient":"top","values":[-0.36,-0.34,-0.32,-0.28,-0.26,-0.24,-0.22,-0.18,-0.16,-0.14,-0.12,-0.08,-0.06,-0.04,-0.02,0.02,0.04,0.06,0.08,0.12,0.14,0.16,0.18,0.22,0.24,0.26,0.28,0.32,0.34,0.36],"labels":false,"ticks":true,"tickSize":-9,"tickWidth":4,"domain":false,"title":null,"zindex":3}},"y":{"field":"l","type":"quantitative","scale":{"domain":[0.0801,0.26011],"nice":false,"zero":false},"axis":{"orient":"right","values":[0.09,0.11,0.12,0.13,0.14,0.16,0.17,0.18,0.19,0.21,0.22,0.23,0.24],"labels":false,"ticks":true,"tickSize":-9,"tickWidth":4,"domain":false,"title":null,"zindex":3}}}}
],
"resolve":{"axis":{"x":"independent","y":"independent"}}
}
